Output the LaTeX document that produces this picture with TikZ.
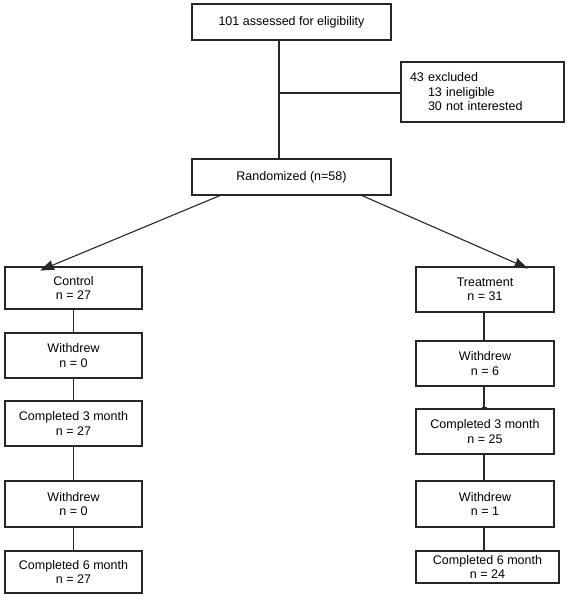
\documentclass[tikz,border=0pt]{standalone}
\usepackage{fontspec}
\setmainfont{Liberation Sans}
\usetikzlibrary{arrows.meta}
\begin{document}
\begin{tikzpicture}[x=1pt,y=-1pt,
  box/.style={draw=black!85,line width=1.1pt,rectangle,align=center,inner sep=0pt,
    font=\fontsize{12.5}{14.5}\selectfont},
  conn/.style={draw=black!85,line width=1.1pt},
  arr/.style={conn,-{Stealth[length=14pt,width=10pt,inset=1pt]}}]
\useasboundingbox (0,0) rectangle (567,600);
\node[box,minimum width=199pt,minimum height=36pt] (top) at (291.5,22) {101 assessed for eligibility};
\node[box,minimum width=163pt,minimum height=60pt,align=left,text width=145pt] (excl) at (482.5,92)
  {43 excluded\\\hspace*{18pt}13 ineligible\\\hspace*{18pt}30 not interested};
\node[box,minimum width=199pt,minimum height=36pt] (rand) at (291.5,177) {Randomized (n=58)};
% control arm
\node[box,minimum width=137pt,minimum height=42pt] (c0) at (73.5,288) {Control\\n = 27};
\node[box,minimum width=137pt,minimum height=45pt] (c1) at (73.5,355.5) {Withdrew\\n = 0};
\node[box,minimum width=137pt,minimum height=45pt] (c2) at (73.5,423.5) {Completed 3 month\\n = 27};
\node[box,minimum width=137pt,minimum height=46pt] (c3) at (73.5,504) {Withdrew\\n = 0};
\node[box,minimum width=137pt,minimum height=42pt] (c4) at (73.5,572) {Completed 6 month\\n = 27};
% treatment arm
\node[box,minimum width=138pt,minimum height=45pt] (t0) at (485,289.5) {Treatment\\n = 31};
\node[box,minimum width=138pt,minimum height=45pt] (t1) at (485,363.5) {Withdrew\\n = 6};
\node[box,minimum width=138pt,minimum height=45pt] (t2) at (485,431.5) {Completed 3 month\\n = 25};
\node[box,minimum width=138pt,minimum height=46pt] (t3) at (485,504) {Withdrew\\n = 1};
\node[box,minimum width=143pt,minimum height=32pt] (t4) at (487.5,567) {Completed 6 month\\n = 24};
% connectors
\coordinate (j) at (279,93);
\draw[conn] ([xshift=-12.5pt]top.south) -- ([xshift=-12.5pt]rand.north);
\draw[conn] (j) -- (j -| excl.west);
\draw[arr] ([xshift=-71.5pt]rand.south) -- ([xshift=-33.5pt,yshift=-4pt]c0.north);
\draw[arr] ([xshift=70.5pt]rand.south) -- ([xshift=43pt,yshift=-2pt]t0.north);
\draw[conn] (c0) -- (c1);
\draw[conn] (c1) -- (c2);
\draw[conn] (c2) -- (c3);
\draw[conn] (c3) -- (c4);
\draw[conn] ([xshift=-1pt]t0.south) -- ([xshift=-1pt]t1.north);
\draw[conn,-{Bar[width=5pt,line width=1.6pt]}] ([xshift=-1pt]t1.south) -- ([xshift=-1pt]t2.north);
\draw[conn] ([xshift=-1pt]t2.south) -- ([xshift=-1pt]t3.north);
\draw[conn] ([xshift=-1pt]t3.south) -- ([xshift=-3.5pt]t4.north);
\end{tikzpicture}
\end{document}
